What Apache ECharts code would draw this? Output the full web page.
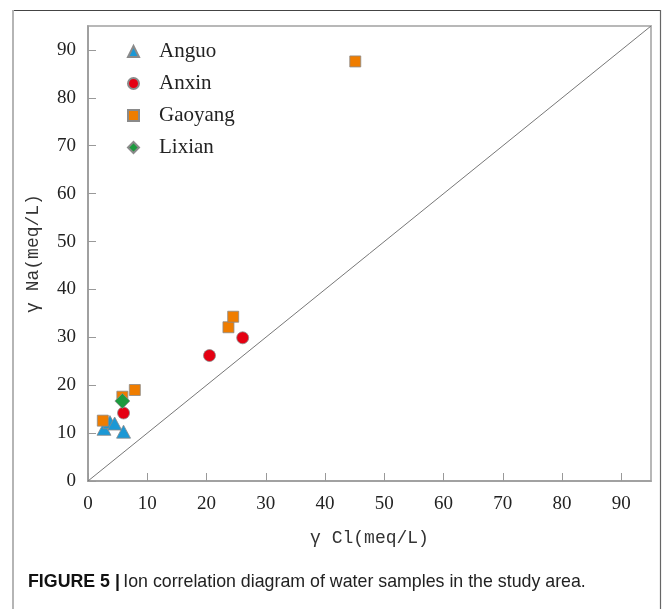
<!DOCTYPE html>
<html>
<head>
<meta charset="utf-8">
<style>
  html, body { margin: 0; padding: 0; background: #fff; }
  #chart { width: 663px; height: 609px; }
</style>
<script src="https://cdn.jsdelivr.net/npm/echarts@6/dist/echarts.min.js"></script>
</head>
<body>
<div id="chart"></div>
<script>
// ---- data ----
var xTicks = [0, 10, 20, 30, 40, 50, 60, 70, 80, 90];
var anguo = [[2.7, 10.9], [3.7, 12.3], [4.5, 12.0], [6.0, 10.3]];
var anxin = [[6.0, 14.2], [20.5, 26.2], [26.1, 29.9]];
var gaoyang = [[2.5, 12.6], [5.8, 17.6], [7.9, 19.0], [23.7, 32.1], [24.5, 34.3], [45.1, 87.6]];
var lixian = [[5.8, 16.7]];
var diagonal = [[0, 0], [95, 95]];
var xName = 'γ Cl(meq/L)';
var yName = 'γ Na(meq/L)';
var caption = 'Ion correlation diagram of water samples in the study area.';

var chart = echarts.init(document.getElementById('chart'), null, { renderer: 'canvas' });

var serif = 'Liberation Serif';
var mono = 'Liberation Mono';

function axisCommon(name, nameGap) {
  return {
    type: 'value',
    min: 0,
    max: 95,
    interval: 10,
    name: name,
    nameLocation: 'middle',
    nameGap: nameGap,
    nameTextStyle: { fontFamily: mono, fontSize: 18, color: '#333' },
    axisLine: { show: true, lineStyle: { color: '#999', width: 1.5 } },
    axisTick: { show: true, inside: true, length: 8, lineStyle: { color: '#999', width: 1 } },
    axisLabel: { fontFamily: serif, fontSize: 19, color: '#222', showMaxLabel: false },
    splitLine: { show: false }
  };
}

var xAxis = axisCommon(xName, 48);
xAxis.axisLabel.margin = 14;
var yAxis = axisCommon(yName, 46);
yAxis.axisLabel.margin = 12;

var markerBorder = { borderColor: '#8a8a8a', borderWidth: 0.8, opacity: 1 };

var option = {
  animation: false,
  backgroundColor: '#fff',
  grid: {
    left: 88, right: 12, top: 26, bottom: 128,
    show: true, borderColor: '#b8b8b8', borderWidth: 2, backgroundColor: 'transparent'
  },
  xAxis: xAxis,
  yAxis: yAxis,
  legend: {
    orient: 'vertical',
    left: 122,
    top: 36,
    itemWidth: 11,
    itemHeight: 11,
    itemGap: 11,
    data: ['Anguo', 'Anxin', 'Gaoyang', 'Lixian'],
    textStyle: { fontFamily: serif, fontSize: 21, color: '#222', lineHeight: 20, padding: [0, 0, 0, 15] }
  },
  series: [
    {
      type: 'line', data: diagonal, symbol: 'none', silent: true,
      lineStyle: { color: '#777', width: 1 }, z: 1
    },
    {
      name: 'Anguo', type: 'scatter', data: anguo, symbol: 'triangle', symbolSize: [14, 13],
      itemStyle: Object.assign({ color: '#1b98d5' }, markerBorder), z: 3
    },
    {
      name: 'Anxin', type: 'scatter', data: anxin, symbol: 'circle', symbolSize: 12,
      itemStyle: Object.assign({ color: '#e50012' }, markerBorder), z: 3
    },
    {
      name: 'Gaoyang', type: 'scatter', data: gaoyang, symbol: 'rect', symbolSize: 11,
      itemStyle: Object.assign({ color: '#ef7d00' }, markerBorder), z: 3
    },
    {
      name: 'Lixian', type: 'scatter', data: lixian, symbol: 'diamond', symbolSize: [15, 15],
      itemStyle: Object.assign({ color: '#1c9a3e' }, markerBorder), z: 4
    }
  ],
  graphic: [
    { type: 'line', shape: { x1: 12, y1: 10.5, x2: 661, y2: 10.5 }, style: { stroke: '#444', lineWidth: 1.2 }, silent: true },
    { type: 'line', shape: { x1: 13, y1: 10, x2: 13, y2: 609 }, style: { stroke: '#b5b5b5', lineWidth: 2 }, silent: true },
    { type: 'line', shape: { x1: 660.5, y1: 10, x2: 660.5, y2: 609 }, style: { stroke: '#666', lineWidth: 1.2 }, silent: true },
    {
      type: 'text', left: 28, top: 573,
      style: {
        text: '{b|FIGURE 5 |} {n|' + caption + '}',
        rich: {
          b: { fontFamily: 'Liberation Sans', fontSize: 17.8, fontWeight: 'bold', fill: '#111' },
          n: { fontFamily: 'Liberation Sans', fontSize: 17.8, fill: '#222' }
        }
      }
    }
  ]
};

chart.setOption(option);
</script>
</body>
</html>
